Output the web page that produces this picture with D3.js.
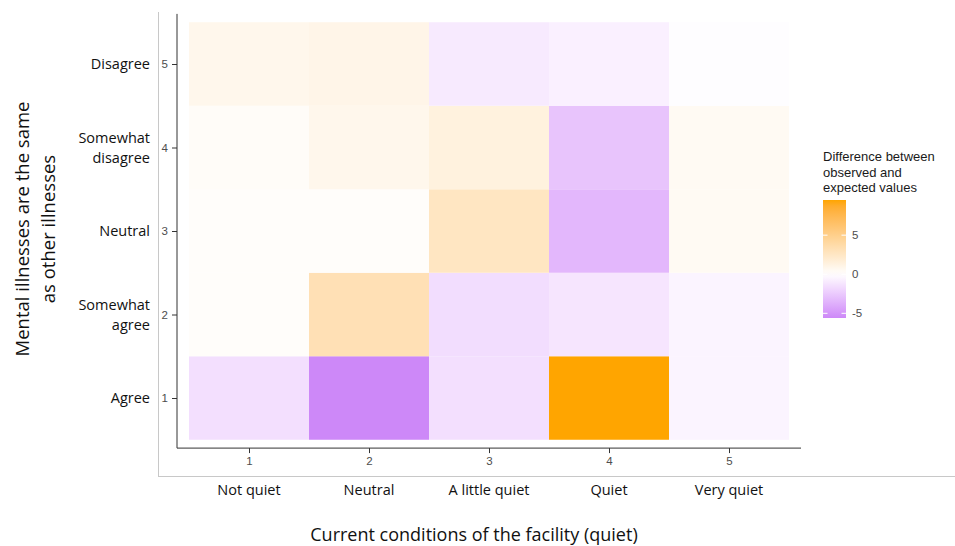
<!DOCTYPE html>
<html>
<head>
<meta charset="utf-8">
<script src="https://cdn.jsdelivr.net/npm/d3@7"></script>
<style>
  html,body{margin:0;padding:0;background:#fff;}
  svg{display:block;}
</style>
</head>
<body>
<div id="chart"></div>
<script>
// Residual heatmap: observed - expected counts
const xCodes = [1, 2, 3, 4, 5];
const xLabels = ["Not quiet", "Neutral", "A little quiet", "Quiet", "Very quiet"];
const yCodes = [1, 2, 3, 4, 5];
const yLabels = [["Agree"], ["Somewhat", "agree"], ["Neutral"], ["Somewhat", "disagree"], ["Disagree"]];
// rows by y code 1..5, columns by x code 1..5
const diff1 = [-1.5, -5.6, -1.5, 9.5, -0.5];
const diff2 = [0.2, 3.2, -1.6, -1.2, -0.5];
const diff3 = [0.2, 0.2, 2.6, -3.4, 0.5];
const diff4 = [0.3, 0.8, 1.4, -2.8, 0.5];
const diff5 = [0.8, 1.0, -1.0, -0.7, -0.1];
const legendTicks = [-5, 0, 5];

const rowsVals = [diff1, diff2, diff3, diff4, diff5];
const cells = [];
rowsVals.forEach((r, yi) => r.forEach((v, xi) => cells.push({ x: xCodes[xi], y: yCodes[yi], v })));

const W = 955, H = 546;
const svg = d3.select("#chart").append("svg").attr("width", W).attr("height", H);

const x = d3.scaleLinear().domain([1, 5]).range([249, 729]);
const y = d3.scaleLinear().domain([1, 5]).range([398, 64]);
const vmin = d3.min(cells, d => d.v), vmax = d3.max(cells, d => d.v);
const color = d3.scaleLinear().domain([vmin, 0, vmax])
  .range(["#cd88f8", "#ffffff", "#ffa500"]).interpolate(d3.interpolateLab);

// outer gray frame (left + bottom)
svg.append("line").attr("x1", 158.5).attr("x2", 158.5).attr("y1", 12).attr("y2", 476.5).attr("stroke", "#c8c8c8");
svg.append("line").attr("x1", 158).attr("x2", W).attr("y1", 476.5).attr("y2", 476.5).attr("stroke", "#c8c8c8");

// cells
const cw = x(2) - x(1), ch = y(1) - y(2);
svg.append("g").selectAll("rect").data(cells).join("rect")
  .attr("x", d => x(d.x) - cw / 2).attr("y", d => y(d.y) - ch / 2)
  .attr("width", cw).attr("height", ch)
  .attr("fill", d => color(d.v));

// axes
const axisCol = "#333";
const gx = svg.append("g").attr("transform", `translate(0,${y(0.4)})`)
  .call(d3.axisBottom(x).tickValues(xCodes).tickFormat(d3.format("d")).tickSize(5).tickPadding(4).tickSizeOuter(0));
const gy = svg.append("g").attr("transform", `translate(${x(0.4)},0)`)
  .call(d3.axisLeft(y).tickValues(yCodes).tickFormat(d3.format("d")).tickSize(5).tickPadding(4).tickSizeOuter(0));
[gx, gy].forEach(g => {
  g.select(".domain").remove();
  g.selectAll(".tick line").attr("stroke", axisCol);
  g.selectAll(".tick text").attr("fill", "#4d4d4d").attr("font-family", "Liberation Sans, Arial, sans-serif").attr("font-size", 11.5);
});
svg.append("line").attr("x1", x(0.4)).attr("x2", x(5.6)).attr("y1", y(0.4)).attr("y2", y(0.4)).attr("stroke", axisCol);
svg.append("line").attr("x1", x(0.4)).attr("x2", x(0.4)).attr("y1", y(5.6)).attr("y2", y(0.4)).attr("stroke", axisCol);

// category labels
const catFont = "'Open Sans', sans-serif";
svg.append("g").selectAll("text").data(xCodes).join("text")
  .attr("x", d => x(d)).attr("y", 495).attr("text-anchor", "middle")
  .attr("font-family", catFont).attr("font-size", 14.5).attr("fill", "#111")
  .text((d, i) => xLabels[i]);

const yl = svg.append("g").selectAll("text").data(yCodes).join("text")
  .attr("text-anchor", "end").attr("font-family", catFont).attr("font-size", 14.5).attr("fill", "#111")
  .attr("transform", d => `translate(150,${y(d)})`);
yl.each(function (d, i) {
  const lines = yLabels[i];
  const t = d3.select(this);
  lines.forEach((s, k) => {
    t.append("tspan").attr("x", 0).attr("y", (k - (lines.length - 1) / 2) * 20 + 5).text(s);
  });
});

// axis titles
svg.append("text").attr("x", 474).attr("y", 541).attr("text-anchor", "middle")
  .attr("font-family", catFont).attr("font-size", 18).attr("fill", "#111")
  .text("Current conditions of the facility (quiet)");
const yt = svg.append("text").attr("transform", "translate(0,229) rotate(-90)")
  .attr("text-anchor", "middle").attr("font-family", catFont).attr("font-size", 18.5).attr("fill", "#111");
yt.append("tspan").attr("x", 0).attr("y", 29).text("Mental illnesses are the same");
yt.append("tspan").attr("x", 0).attr("y", 55).text("as other illnesses");

// legend
const lg = svg.append("g");
const legFont = "Liberation Sans, Arial, sans-serif";
["Difference between", "observed and", "expected values"].forEach((s, i) => {
  lg.append("text").attr("x", 823).attr("y", 161 + i * 15.5).attr("font-family", legFont)
    .attr("font-size", 13).attr("fill", "#1a1a1a").text(s);
});
const ly = d3.scaleLinear().domain([vmin, vmax]).range([318, 200]);
const grad = svg.append("defs").append("linearGradient").attr("id", "lgrad")
  .attr("x1", 0).attr("x2", 0).attr("y1", 1).attr("y2", 0);
d3.range(0, 1.0001, 0.05).forEach(t => {
  grad.append("stop").attr("offset", t).attr("stop-color", color(vmin + t * (vmax - vmin)));
});
lg.append("rect").attr("x", 823).attr("y", 200).attr("width", 23).attr("height", 118).attr("fill", "url(#lgrad)");
legendTicks.forEach(v => {
  lg.append("line").attr("x1", 823).attr("x2", 827.5).attr("y1", ly(v)).attr("y2", ly(v)).attr("stroke", "#fff");
  lg.append("line").attr("x1", 841.5).attr("x2", 846).attr("y1", ly(v)).attr("y2", ly(v)).attr("stroke", "#fff");
  lg.append("text").attr("x", 852).attr("y", ly(v) + 4).attr("font-family", legFont)
    .attr("font-size", 11.5).attr("fill", "#4d4d4d").text(v);
});
</script>
</body>
</html>
